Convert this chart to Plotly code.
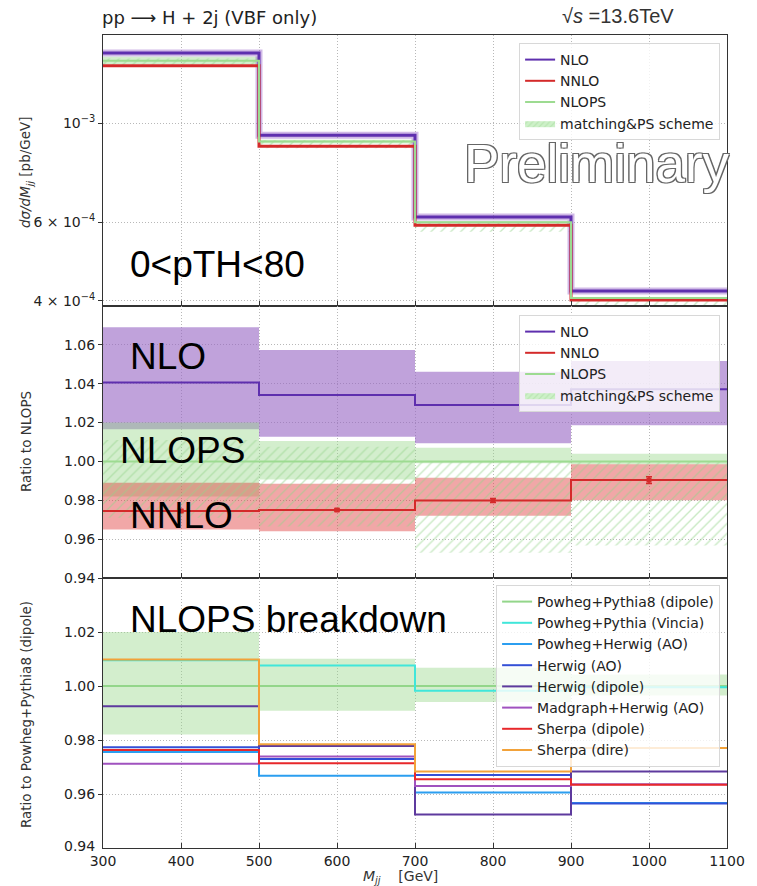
import plotly.graph_objects as go
import numpy as np

# ---------------- data ----------------
edges = [300, 500, 700, 900, 1100]
centers = [400, 600, 800, 1000]

# top panel: dsigma/dMjj [pb/GeV]
nlo_xs = [1.438e-3, 9.41e-4, 6.17e-4, 4.21e-4]
nnlo_xs = [1.346e-3, 8.89e-4, 5.91e-4, 4.02e-4]
nlops_xs = [1.382e-3, 9.10e-4, 6.00e-4, 4.06e-4]

# middle panel: ratio to NLOPS
nlo_ratio = [1.0406, 1.0342, 1.0290, 1.0372]
nlo_band_lo = [1.0165, 1.0127, 1.0093, 1.0186]
nlo_band_hi = [1.0690, 1.0574, 1.0462, 1.0517]
nnlo_ratio = [0.9745, 0.9750, 0.9799, 0.9904]
nnlo_err = [0.0004, 0.0005, 0.0010, 0.0017]
nnlo_band_lo = [0.9650, 0.9640, 0.9720, 0.9800]
nnlo_band_hi = [0.9890, 0.9885, 0.9916, 0.9985]
nlops_ratio = [1.0, 1.0, 1.0, 1.0]
nlops_band_mid_lo = [0.9820, 0.9907, 0.9990, 0.9985]
nlops_band_mid_hi = [1.0200, 1.0105, 1.0070, 1.0040]
scheme_lo = [0.9710, 0.9665, 0.9530, 0.9567]
scheme_hi = [1.0110, 1.0075, 1.0000, 1.0000]

# bottom panel: ratio to Powheg+Pythia8 (dipole)
gen_names = ["Powheg+Pythia8 (dipole)", "Powheg+Pythia (Vincia)", "Powheg+Herwig (AO)",
             "Herwig (AO)", "Herwig (dipole)", "Madgraph+Herwig (AO)",
             "Sherpa (dipole)", "Sherpa (dire)"]
gen_vals = [
    [1.0000, 1.0000, 1.0000, 1.0000],
    [1.0095, 1.0076, 0.9982, 0.9995],
    [0.9756, 0.9668, 0.9606, 0.9567],
    [0.9773, 0.9730, 0.9670, 0.9565],
    [0.9925, 0.9778, 0.9524, 0.9683],
    [0.9712, 0.9739, 0.9630, 0.9636],
    [0.9763, 0.9714, 0.9655, 0.9634],
    [1.0098, 0.9784, 0.9683, 0.9770],
]
gen_colors = ["#93d68a", "#40e6da", "#2b9ef0", "#3450d6", "#5e3a9e", "#a052bf", "#e8282b", "#f2a23a"]
pp8_band_lo = [0.9820, 0.9908, 0.9941, 0.9965]
pp8_band_hi = [1.0200, 1.0101, 1.0068, 1.0043]

# ---------------- geometry ----------------
W, H = 757, 886
L, R, T, B = 103, 21, 35, 38
PW, PH = W - L - R, H - T - B


def px_x(px):
    return (px - L) / PW


def px_y(py):
    return (H - B - py) / PH


y_top_split = px_y(306)
y_bot_split = px_y(578)

C_NLO = "#5e2fae"
C_NLO_BAND = "rgba(150,100,195,0.6)"
C_NNLO = "#d42a2a"
C_NNLO_BAND = "rgba(225,60,60,0.45)"
C_NLOPS = "#9ddb91"
C_NLOPS_BAND = "rgba(150,215,135,0.42)"
C_HATCH = "#94d48a"

fig = go.Figure()


def step_xy(vals):
    return list(edges), list(vals) + [vals[-1]]


def band_xy(lo, hi):
    xs, ys = [], []
    for i in range(len(lo)):
        xs += [edges[i], edges[i + 1], edges[i + 1], edges[i], edges[i], None]
        ys += [lo[i], lo[i], hi[i], hi[i], lo[i], None]
    return xs, ys


def add_band(lo, hi, color, xa, ya, pattern=False):
    bx, by = band_xy(lo, hi)
    kw = dict(x=bx, y=by, fill="toself", mode="lines", line=dict(width=0),
              xaxis=xa, yaxis=ya, hoverinfo="skip", showlegend=False)
    if pattern:
        kw["fillcolor"] = "rgba(0,0,0,0)"
        kw["fillpattern"] = dict(shape="/", fgcolor=C_HATCH, bgcolor="rgba(0,0,0,0)",
                                 size=7, solidity=0.2)
    else:
        kw["fillcolor"] = color
    fig.add_trace(go.Scatter(**kw))


def add_step(vals, color, width, xa, ya, name, legend=None, show=False):
    sx, sy = step_xy(vals)
    kw = dict(x=sx, y=sy, mode="lines", line=dict(color=color, width=width, shape="hv"),
              xaxis=xa, yaxis=ya, name=name, showlegend=show, hoverinfo="skip")
    if legend:
        kw["legend"] = legend
    fig.add_trace(go.Scatter(**kw))


def legend_line(name, color, xa, ya, legend):
    fig.add_trace(go.Scatter(x=[None], y=[None], xaxis=xa, yaxis=ya, mode="lines",
                             line=dict(color=color, width=2), name=name, legend=legend,
                             showlegend=True))


def legend_patch(xa, ya, legend):
    fig.add_trace(go.Scatter(x=[None], y=[None], xaxis=xa, yaxis=ya, mode="lines", fill="toself",
                             line=dict(width=0), fillcolor="rgba(190,232,182,1)",
                             fillpattern=dict(shape="/", fgcolor="#a6dc9c",
                                              bgcolor="rgba(205,240,200,1)", size=4, solidity=0.3),
                             name="matching&PS scheme", legend=legend, showlegend=True))


# ---------------- top panel ----------------
top_band_lo = [nlops_xs[i] * pp8_band_lo[i] for i in range(4)]
top_band_hi = [nlops_xs[i] * pp8_band_hi[i] for i in range(4)]
top_sch_lo = [nlops_xs[i] * scheme_lo[i] for i in range(4)]
top_sch_hi = [nlops_xs[i] * scheme_hi[i] for i in range(4)]
add_band(top_band_lo, top_band_hi, C_NLOPS_BAND, "x", "y")
add_band(top_sch_lo, top_sch_hi, None, "x", "y", pattern=True)
add_step(nlo_xs, "rgba(150,100,200,0.45)", 7, "x", "y", "")
add_step(nlo_xs, C_NLO, 3, "x", "y", "NLO")
add_step(nnlo_xs, C_NNLO, 3, "x", "y", "NNLO")
add_step(nlops_xs, C_NLOPS, 2, "x", "y", "NLOPS")
legend_line("NLO", C_NLO, "x", "y", "legend")
legend_line("NNLO", C_NNLO, "x", "y", "legend")
legend_line("NLOPS", C_NLOPS, "x", "y", "legend")
legend_patch("x", "y", "legend")

# ---------------- middle panel ----------------
add_band(nlo_band_lo, nlo_band_hi, C_NLO_BAND, "x2", "y2")
add_band(nlops_band_mid_lo, nlops_band_mid_hi, C_NLOPS_BAND, "x2", "y2")
add_band(nnlo_band_lo, nnlo_band_hi, C_NNLO_BAND, "x2", "y2")
add_band(scheme_lo, scheme_hi, None, "x2", "y2", pattern=True)
add_step(nlops_ratio, C_NLOPS, 2, "x2", "y2", "NLOPS")
add_step(nlo_ratio, C_NLO, 2, "x2", "y2", "NLO")
add_step(nnlo_ratio, C_NNLO, 2, "x2", "y2", "NNLO")
fig.add_trace(go.Scatter(x=centers, y=nnlo_ratio, mode="markers", xaxis="x2", yaxis="y2",
                         marker=dict(symbol="square", size=5, color=C_NNLO),
                         error_y=dict(type="data", array=nnlo_err, color=C_NNLO, thickness=1.5, width=3),
                         showlegend=False, hoverinfo="skip"))
legend_line("NLO", C_NLO, "x2", "y2", "legend2")
legend_line("NNLO", C_NNLO, "x2", "y2", "legend2")
legend_line("NLOPS", C_NLOPS, "x2", "y2", "legend2")
legend_patch("x2", "y2", "legend2")

# ---------------- bottom panel ----------------
add_band(pp8_band_lo, pp8_band_hi, C_NLOPS_BAND, "x3", "y3")
for nm, vals, col in zip(gen_names, gen_vals, gen_colors):
    add_step(vals, col, 2, "x3", "y3", nm, legend="legend3", show=True)

# ---------------- axes ----------------
axis_font = dict(family="DejaVu Sans", size=14, color="#222")
grid = dict(showgrid=True, gridcolor="#b8b8b8", griddash="1px,2px", gridwidth=1)
common_x = dict(range=[300, 1100], showline=True, linecolor="#333", linewidth=1, mirror=True,
                ticks="inside", ticklen=5, tickcolor="#333", dtick=100, tick0=300,
                zeroline=False, tickfont=axis_font, **grid)
common_y = dict(showline=True, linecolor="#333", linewidth=1, mirror=True,
                ticks="outside", ticklen=4, tickcolor="#333", zeroline=False, tickfont=axis_font,
                **grid)

fig.update_layout(
    xaxis=dict(**common_x, domain=[0, 1], anchor="y", showticklabels=False),
    xaxis2=dict(**common_x, domain=[0, 1], anchor="y2", showticklabels=False, matches="x"),
    xaxis3=dict(**common_x, domain=[0, 1], anchor="y3", showticklabels=True, matches="x"),
    yaxis=dict(**common_y, type="log", domain=[y_top_split, 1], anchor="x",
               range=[-3.4095, -2.8019],
               tickvals=[4e-4, 6e-4, 1e-3],
               ticktext=["4 × 10<sup>−4</sup>", "6 × 10<sup>−4</sup>", "10<sup>−3</sup>"]),
    yaxis2=dict(**common_y, domain=[y_bot_split, y_top_split], anchor="x2",
                range=[0.94, 1.08], tickvals=[0.94, 0.96, 0.98, 1.00, 1.02, 1.04, 1.06],
                ticktext=["0.94", "0.96", "0.98", "1.00", "1.02", "1.04", "1.06"]),
    yaxis3=dict(**common_y, domain=[0, y_bot_split], anchor="x3",
                range=[0.94, 1.04], tickvals=[0.96, 0.98, 1.00, 1.02],
                ticktext=["0.96", "0.98", "1.00", "1.02"]),
)

leg_common = dict(bgcolor="rgba(255,255,255,0.8)", bordercolor="#d8d8d8", borderwidth=1,
                  font=dict(family="DejaVu Sans", size=14, color="#222"),
                  xanchor="right", yanchor="top", tracegroupgap=0, itemwidth=30)
fig.update_layout(
    legend=dict(**leg_common, x=px_x(729), y=px_y(43)),
    legend2=dict(**leg_common, x=px_x(729), y=px_y(315)),
    legend3=dict(**leg_common, x=px_x(729), y=px_y(585)),
)

# ---------------- annotations ----------------
ann = []
big = dict(family="Liberation Sans, Arial", size=37, color="black")


def add_text(text, x, y, font, xanchor="left", yanchor="middle", textangle=0):
    ann.append(dict(text=text, x=px_x(x), y=px_y(y), xref="paper", yref="paper",
                    showarrow=False, xanchor=xanchor, yanchor=yanchor, font=font,
                    textangle=textangle))


add_text("pp ⟶ H + 2j (VBF only)", 100, 17, dict(family="DejaVu Sans", size=18, color="#222"))
add_text("√<i>s</i> =13.6TeV", 684, 16, dict(family="Liberation Sans, Arial", size=20, color="#333"),
         xanchor="right")
add_text("Preliminary", 604, 164,
         dict(family="Liberation Sans, Arial", size=53, color="white",
              shadow="-1.2px -1.2px 0 #666, 1.2px -1.2px 0 #666, -1.2px 1.2px 0 #666, 1.2px 1.2px 0 #666"),
         xanchor="center")
add_text("0<pTH<80", 128, 264, big)
add_text("NLO", 128, 357, big)
add_text("NLOPS", 118, 450, big)
add_text("NNLO", 128, 515, big)
add_text("NLOPS breakdown", 128, 619, big)

yt_font = dict(family="DejaVu Sans", size=13.5, color="#333")
add_text("<i>dσ/dM<sub>jj</sub></i> [pb/GeV]", 25, 172, yt_font, xanchor="center", textangle=-90)
add_text("Ratio to NLOPS", 25, 442, yt_font, xanchor="center", textangle=-90)
add_text("Ratio to Powheg+Pythia8 (dipole)", 25, 715, yt_font, xanchor="center", textangle=-90)
add_text("<i>M<sub>jj</sub></i>    [GeV]", 405, 877, dict(family="DejaVu Sans", size=14, color="#333"),
         xanchor="center")
# bottom-panel 0.94 label that overlaps the 300 tick
add_text("0.94", 97, 846, axis_font, xanchor="right")

fig.update_layout(
    annotations=ann,
    width=W, height=H,
    margin=dict(l=L, r=R, t=T, b=B),
    paper_bgcolor="white", plot_bgcolor="white",
    showlegend=True,
)

fig.write_html("out.html")
